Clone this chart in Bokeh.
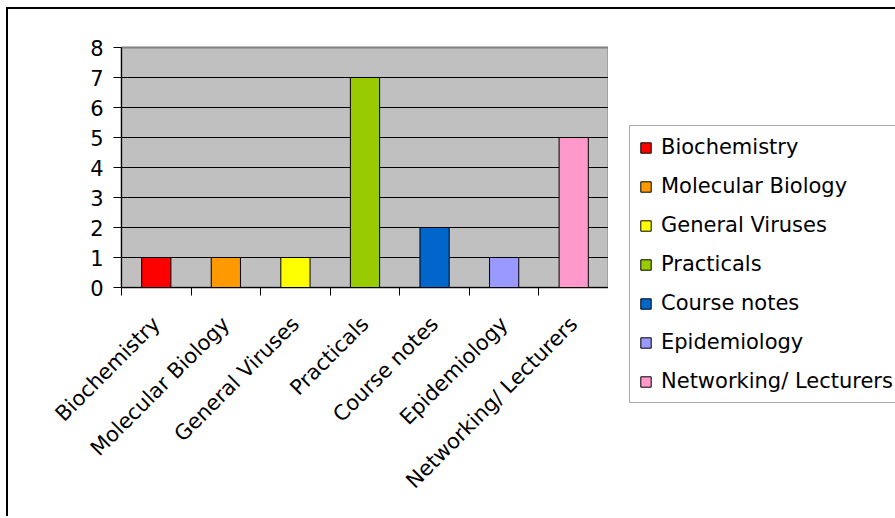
from bokeh.plotting import figure
from bokeh.models import (ColumnDataSource, Range1d, FixedTicker, Legend, LegendItem)
from bokeh.embed import file_html
from bokeh.resources import INLINE
import math

# ---- data ----
categories = ["Biochemistry", "Molecular Biology", "General Viruses", "Practicals",
              "Course notes", "Epidemiology", "Networking/ Lecturers"]
counts = [1, 1, 1, 7, 2, 1, 5]
colors = ["#FF0000", "#FF9900", "#FFFF00", "#99CC00", "#0066CC", "#9999FF", "#FF99CC"]
y_ticks = [0, 1, 2, 3, 4, 5, 6, 7, 8]

FONT = "DejaVu Sans"
FSIZE = "21px"

n = len(categories)
centers = [i + 0.5 for i in range(n)]
bounds = [float(i) for i in range(n + 1)]

# ---- main chart ----
p = figure(width=602, height=509, output_backend="svg", toolbar_location=None,
           x_range=Range1d(0, n), y_range=Range1d(0, 8))
p.min_border_left = 113
p.min_border_right = 2
p.min_border_top = 38
p.min_border_bottom = 231
p.background_fill_color = "#C0C0C0"
p.border_fill_color = "white"
p.outline_line_color = "#808080"
p.outline_line_width = 2
p.styles = {"margin-left": "6px", "margin-top": "7px",
            "border-left": "2px solid black", "border-top": "2px solid black"}

for i in range(n):
    src = ColumnDataSource(dict(x=[centers[i]], top=[counts[i]]))
    p.vbar(x="x", top="top", bottom=0, width=0.42, source=src,
           fill_color=colors[i], line_color="black", line_width=1)

# y axis
p.yaxis.ticker = FixedTicker(ticks=y_ticks)
p.yaxis.major_tick_in = 0
p.yaxis.major_tick_out = 8
p.yaxis.minor_tick_line_color = None
p.yaxis.major_label_standoff = 10
p.yaxis.axis_line_color = "black"
p.yaxis.major_label_text_font = FONT
p.yaxis.major_label_text_font_size = FSIZE
p.yaxis.major_label_text_color = "black"

# grid
p.xgrid.grid_line_color = None
p.ygrid.ticker = FixedTicker(ticks=y_ticks[1:-1])
p.ygrid.grid_line_color = "black"
p.ygrid.grid_line_width = 1

# x axis: labels at centers, tick marks at category boundaries
p.xaxis.ticker = FixedTicker(ticks=centers, minor_ticks=bounds)
p.xaxis.major_tick_line_color = None
p.xaxis.minor_tick_in = 0
p.xaxis.minor_tick_out = 8
p.xaxis.minor_tick_line_color = "black"
p.xaxis.major_label_overrides = {centers[i]: categories[i] for i in range(n)}
p.xaxis.major_label_orientation = math.pi / 4
p.xaxis.major_label_standoff = 25
p.xaxis.major_label_text_font = FONT
p.xaxis.major_label_text_font_size = FSIZE
p.xaxis.major_label_text_color = "black"
p.xaxis.axis_line_color = "black"

# ---- legend panel (transparent overlay; its own bars lie outside its visible range) ----
q = figure(width=295, height=509, output_backend="svg", toolbar_location=None,
           x_axis_type=None, y_axis_type=None,
           x_range=Range1d(100, 101), y_range=Range1d(100, 101))
q.min_border_left = 0
q.min_border_right = 0
q.min_border_top = 0
q.min_border_bottom = 0
q.outline_line_color = None
q.background_fill_alpha = 0
q.border_fill_alpha = 0
q.xgrid.grid_line_color = None
q.ygrid.grid_line_color = None
q.styles = {"position": "absolute", "left": "600px", "top": "7px",
            "border-top": "2px solid black"}

items = []
for i in range(n):
    src = ColumnDataSource(dict(x=[centers[i]], top=[counts[i]]))
    r = q.vbar(x="x", top="top", bottom=0, width=0.42, source=src,
               fill_color=colors[i], line_color="black", line_width=1)
    items.append(LegendItem(label=categories[i], renderers=[r]))

legend = Legend(items=items, location=(29, 115), orientation="vertical")
legend.label_text_font = FONT
legend.label_text_font_size = FSIZE
legend.label_text_color = "black"
legend.glyph_width = 13
legend.glyph_height = 13
legend.label_height = 13
legend.label_standoff = 9
legend.spacing = 15
legend.padding = 9
legend.margin = 0
legend.border_line_color = "#555555"
legend.border_line_width = 1
legend.background_fill_color = "white"
legend.background_fill_alpha = 1
q.add_layout(legend, "center")

open("out.html", "w").write(file_html([p, q], INLINE))
